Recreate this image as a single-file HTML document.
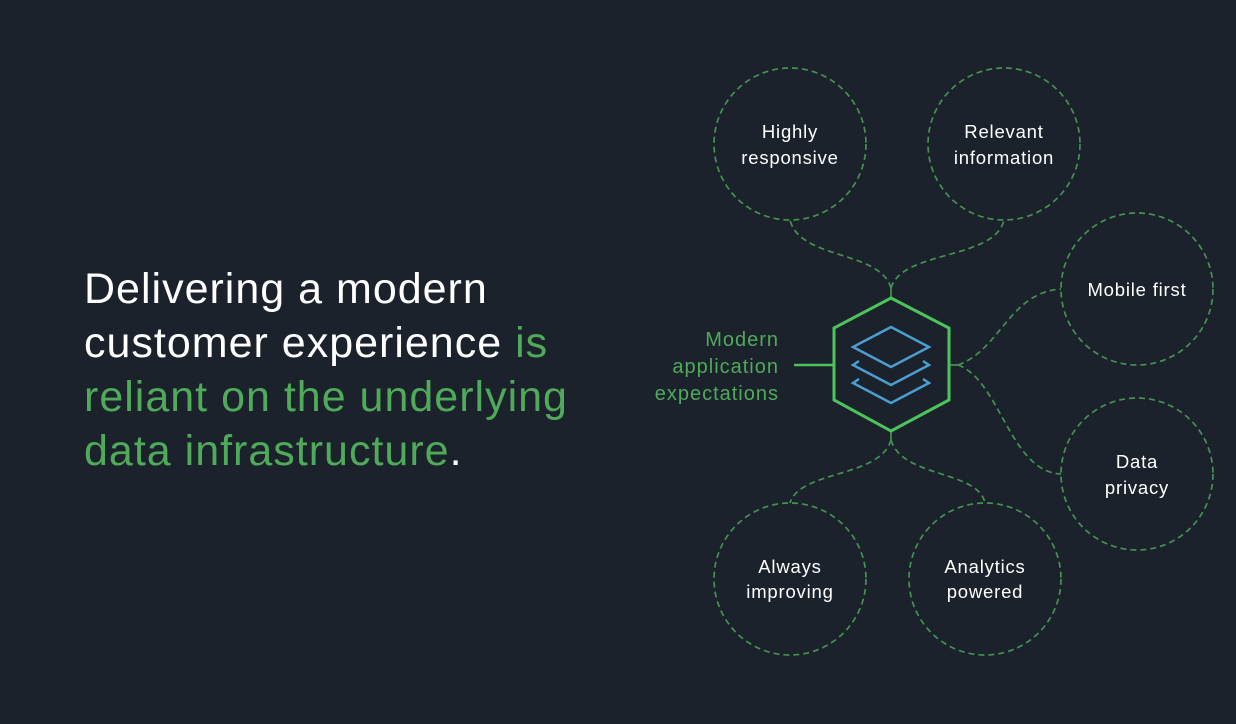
<!DOCTYPE html>
<html><head><meta charset="utf-8"><style>
html,body{margin:0;padding:0;background:#1b222c;}
body{width:1236px;height:724px;position:relative;overflow:hidden;font-family:"Liberation Sans",sans-serif;}
.t{position:absolute;left:84px;top:262px;font-size:43px;line-height:54px;color:#fff;white-space:nowrap;letter-spacing:1px}
.g{color:#4faa5a}
</style></head><body>
<div class="t">Delivering a modern<br>customer experience <span class="g">is</span><br><span class="g">reliant on the underlying</span><br><span class="g">data infrastructure</span>.</div>
<svg width="1236" height="724" style="position:absolute;left:0;top:0" font-family="Liberation Sans, sans-serif">
<g fill="none" stroke="#44934f" stroke-width="1.7" stroke-dasharray="6,4">
<circle cx="790" cy="144" r="76"/>
<circle cx="1004" cy="144" r="76"/>
<circle cx="1137" cy="289" r="76"/>
<circle cx="1137" cy="474" r="76"/>
<circle cx="790" cy="579" r="76"/>
<circle cx="985" cy="579" r="76"/>
<path d="M891,288 C880,250 800,260 790,220"/>
<path d="M891,288 C902,250 995,260 1004,220"/>
<path d="M958,365 C1000,350 1010,292 1061,289"/>
<path d="M958,365 C1000,380 1010,472 1061,474"/>
<path d="M891,440 C880,478 800,470 790,503"/>
<path d="M891,440 C902,478 978,470 985,503"/>
</g>
<g stroke="#44934f" stroke-width="1.7">
<line x1="891" y1="288" x2="891" y2="298"/><line x1="949" y1="365" x2="958" y2="365"/><line x1="891" y1="431" x2="891" y2="440"/>
</g>
<polygon points="891,298 949,328 949,400 891,431 834,400 834,328" fill="none" stroke="#4cc45a" stroke-width="3"/>
<line x1="794" y1="365" x2="834" y2="365" stroke="#4cc45a" stroke-width="2.5"/>
<g fill="none" stroke="#4b9fd0" stroke-width="2.5" stroke-linejoin="miter">
<polygon points="891,327 929,347 891,367 853,347"/>
<polyline points="859,361 853,365 891,385 929,365 923,361"/>
<polyline points="859,379 853,383 891,403 929,383 923,379"/>
</g>
<g fill="#4faa5a" font-size="20" text-anchor="end" letter-spacing="1">
<text x="779" y="346">Modern</text><text x="779" y="373">application</text><text x="779" y="400">expectations</text>
</g>
<g fill="#fff" font-size="18.5" text-anchor="middle" letter-spacing="0.8">
<text x="790" y="138">Highly</text><text x="790" y="164">responsive</text>
<text x="1004" y="138">Relevant</text><text x="1004" y="164">information</text>
<text x="1137" y="296">Mobile first</text>
<text x="1137" y="468">Data</text><text x="1137" y="494">privacy</text>
<text x="790" y="573">Always</text><text x="790" y="598">improving</text>
<text x="985" y="573">Analytics</text><text x="985" y="598">powered</text>
</g>
</svg>
</body></html>
